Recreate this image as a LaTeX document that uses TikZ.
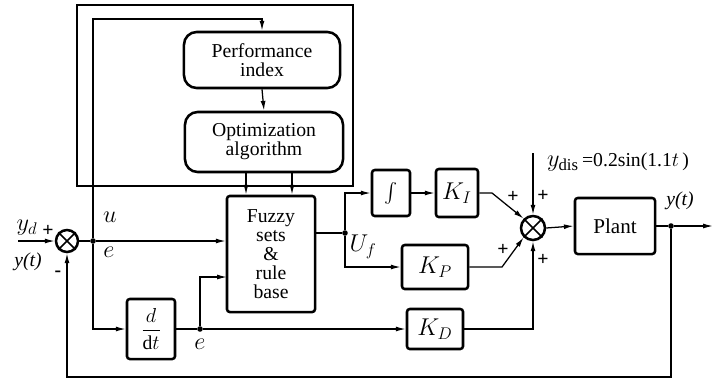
\documentclass[tikz,border=0pt]{standalone}
\usepackage{amsmath,amssymb}
\usepackage{fontspec}
\setmainfont{LiberationSerif}[Extension=.ttf,UprightFont=*-Regular,BoldFont=*-Bold,ItalicFont=*-Italic,BoldItalicFont=*-BoldItalic]
\usetikzlibrary{arrows.meta,calc}

\tikzset{
  blk/.style={draw,line width=1.8pt,rounded corners=2pt,align=center,inner sep=1pt},
  rblk/.style={blk,rounded corners=9pt},
  sumjn/.style={draw,line width=1.8pt,circle,minimum size=#1,inner sep=0pt},
  arr/.style={-{Latex[length=7pt,width=3.5pt]}},
  dot/.style={circle,fill,inner sep=1.4pt},
  sgn/.style={font=\fontsize{14}{14}\selectfont\bfseries},
  big/.style={font=\fontsize{17}{17}\selectfont}
}

\begin{document}
\begin{tikzpicture}[x=0.025cm,y=-0.025cm,line width=0.9pt,font=\fontsize{14}{13.5}\selectfont]
        \useasboundingbox (0,0) rectangle (715,383);

        % Adaptation part
        \draw (77,5) rectangle (353,186);
        \node[rblk,minimum width=3.9cm,minimum height=1.4cm] (perf) at (262,60) {Performance\\index};
        \node[rblk,minimum width=3.95cm,minimum height=1.5cm] (opt) at (264,142) {Optimization\\algorithm};
        \coordinate (loop) at (262,19);

        % Fuzzy controller and error paths
        \node[blk,minimum width=2.2cm,minimum height=2.9cm] (fuzzy) at (271,254) {Fuzzy\\sets\\\&\\rule\\base};
        \node[sumjn=0.55cm] (sumL) at (67,241) {};
        \draw[line width=1.2pt] (sumL.north west) -- (sumL.south east) (sumL.north east) -- (sumL.south west);
        \node[blk,minimum width=1.2cm,minimum height=1.5cm] (ddt) at (151,329) {$\dfrac{d}{\mathrm{d}t}$};
        \node[dot] (jE) at (93,241) {};
        \node[dot] (jD) at (200,329) {};
        \coordinate (yd) at (18,241);
        \coordinate (fzin) at (227,277);

        % PID gains
        \node[dot] (jU) at (345,233) {};
        \node[blk,minimum width=0.95cm,minimum height=1.15cm] (integ) at (391,193) {$\int$};
        \node[blk,big,minimum width=1.05cm,minimum height=1.2cm] (KI) at (457,193) {$K_I$};
        \node[blk,big,minimum width=1.65cm,minimum height=1.1cm] (KP) at (435,267) {$K_P$};
        \node[blk,big,minimum width=1.4cm,minimum height=1.0cm] (KD) at (435,329) {$K_D$};

        % Plant side
        \node[sumjn=0.6cm] (sumR) at (533,228) {};
        \draw[line width=1.2pt] (sumR.north west) -- (sumR.south east) (sumR.north east) -- (sumR.south west);
        \node[blk,minimum width=2cm,minimum height=1.4cm,font=\fontsize{15}{15}\selectfont] (plant) at (615,226) {Plant};
        \node[dot] (jY) at (671,226) {};
        \coordinate (yout) at (713,226);
        \coordinate (dis) at (533,153);
        \coordinate (fb) at (67,377);

        % Connections
        \draw[arr] (yd) -- (sumL.west);
        \draw (sumL.east) -- (jE);
        \draw[arr] (jE) -- (fuzzy.west |- jE);
        \draw[arr] (jE) -- (jE |- loop) -- (loop) -- (perf.north);
        \draw[arr] (perf.south) -- (opt.north);
        \draw[arr] (opt.south -| 246,0) -- (fuzzy.north -| 246,0);
        \draw[arr] (opt.south -| 292,0) -- (fuzzy.north -| 292,0);
        \draw[arr] (jE) -- (jE |- ddt) -- (ddt.west);
        \draw (ddt.east) -- (jD);
        \draw[arr] (jD) -- (KD.west);
        \draw[arr] (jD) -- (jD |- fzin) -- (fzin);
        \draw (fuzzy.east |- jU) -- (jU);
        \draw[arr] (jU) -- (jU |- integ) -- (integ.west);
        \draw[arr] (integ) -- (KI);
        \draw[arr] (jU) -- (jU |- KP) -- (KP.west);
        \draw[arr] (KI.east) -- (492,193) -- (sumR.north west);
        \draw[arr] (KP.east) -- (502,267) -- (sumR.south west);
        \draw[arr] (dis) -- (sumR.north);
        \draw[arr] (KD.east) -- (sumR.south |- KD) -- (sumR.south);
        \draw[arr] (sumR.east) -- (plant.west);
        \draw (plant.east) -- (jY);
        \draw[arr] (jY) -- (yout);
        \draw[arr] (jY) -- (jY |- fb) -- (fb) -- (sumL.south);

        % Labels
        \node[big] (lyd) at (27,228) {$y_d$};
        \node (lyt) at (28,262) {\textit{y(t)}};
        \node[sgn] (p1) at (48,231) {+};
        \node[sgn] (m1) at (58,274) {-};
        \node[big] (lu) at (110,217) {$u$};
        \node[big] (le1) at (109,252) {$e$};
        \node[big] (le2) at (200,344) {$e$};
        \node[big] (luf) at (363,247) {$U_f$};
        \node[sgn] (p2) at (513,197) {+};
        \node[sgn] (p3) at (543,196) {+};
        \node[sgn] (p4) at (503,250) {+};
        \node[sgn] (p5) at (543,260) {+};
        \node (ldis) at (618,162) {{\fontsize{17}{17}\selectfont$y_{\text{dis}}$}\,=0.2sin(1.1$t$\,)};
        \node (lyo) at (680,201) {\textit{y(t)}};
    \end{tikzpicture}
\end{document}
